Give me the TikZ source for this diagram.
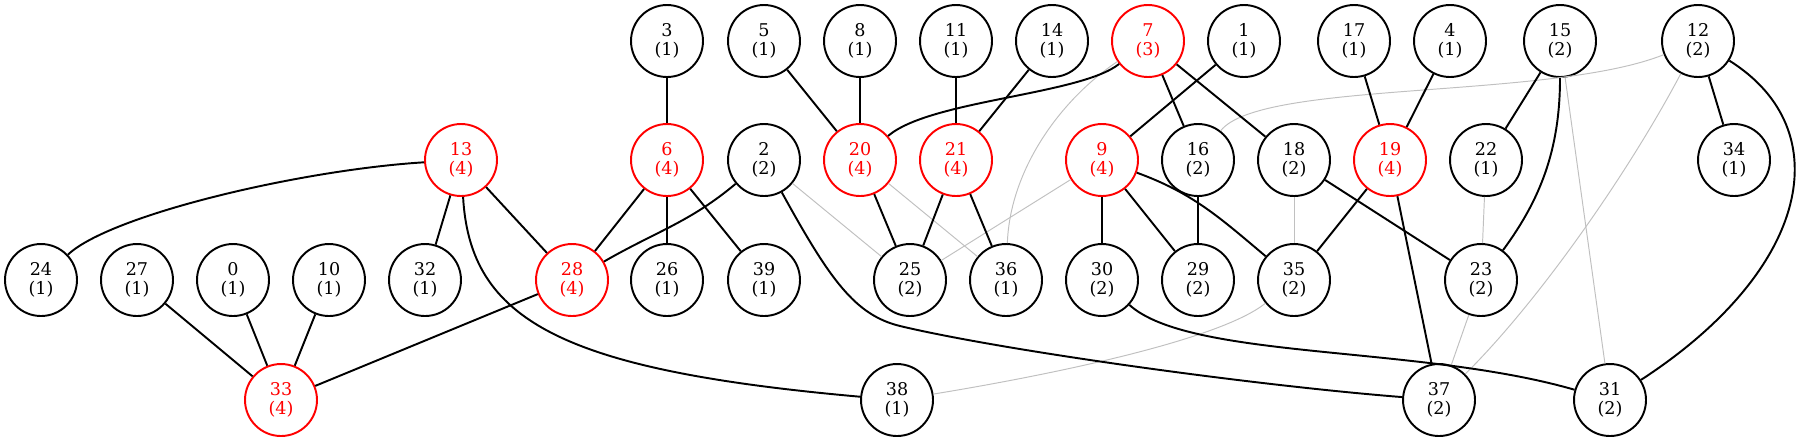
\documentclass[tikz,border=0pt]{standalone}
\usepackage{xcolor}
\usepackage{fontspec}
\setmainfont{DejaVu Serif}
\usepackage{tikz}
\usetikzlibrary{positioning}
\definecolor{hubred}{HTML}{FF0000}
\definecolor{weakgray}{HTML}{C0C0C0}

\begin{document}
\begin{tikzpicture}[
    x=0.02cm, y=-0.02cm,
    vertex/.style={circle, draw, line width=1.1pt, minimum size=1.44cm, inner sep=0pt, align=center, font=\fontsize{10}{10.8}\selectfont},
    hub/.style={vertex, draw=hubred, text=hubred},
    link/.style={line width=1.1pt},
    weak/.style={line width=0.55pt, weakgray}
]
\useasboundingbox (0,0) rectangle (1797,441);

% top row
\node[vertex] (n3) at (667,41) {3\\(1)};
\node[vertex] (n5) at (764,41) {5\\(1)};
\node[vertex] (n8) at (860,41) {8\\(1)};
\node[vertex] (n11) at (956,41) {11\\(1)};
\node[vertex] (n14) at (1052,41) {14\\(1)};
\node[hub] (n7) at (1148,41) {7\\(3)};
\node[vertex] (n1) at (1244,41) {1\\(1)};
\node[vertex] (n17) at (1354,41) {17\\(1)};
\node[vertex] (n4) at (1450,41) {4\\(1)};
\node[vertex] (n15) at (1560,41) {15\\(2)};
\node[vertex] (n12) at (1698,41) {12\\(2)};

% second row
\node[hub] (n13) at (461,160) {13\\(4)};
\node[hub] (n6) at (667,160) {6\\(4)};
\node[vertex] (n2) at (764,160) {2\\(2)};
\node[hub] (n20) at (860,160) {20\\(4)};
\node[hub] (n21) at (956,160) {21\\(4)};
\node[hub] (n9) at (1102,160) {9\\(4)};
\node[vertex] (n16) at (1198,160) {16\\(2)};
\node[vertex] (n18) at (1294,160) {18\\(2)};
\node[hub] (n19) at (1390,160) {19\\(4)};
\node[vertex] (n22) at (1486,160) {22\\(1)};
\node[vertex] (n34) at (1734,160) {34\\(1)};

% third row
\node[vertex] (n24) at (41,280) {24\\(1)};
\node[vertex] (n27) at (137,280) {27\\(1)};
\node[vertex] (n0) at (233,280) {0\\(1)};
\node[vertex] (n10) at (329,280) {10\\(1)};
\node[vertex] (n32) at (425,280) {32\\(1)};
\node[hub] (n28) at (572,280) {28\\(4)};
\node[vertex] (n26) at (667,280) {26\\(1)};
\node[vertex] (n39) at (764,280) {39\\(1)};
\node[vertex] (n25) at (910,280) {25\\(2)};
\node[vertex] (n36) at (1006,280) {36\\(1)};
\node[vertex] (n30) at (1102,280) {30\\(2)};
\node[vertex] (n29) at (1198,280) {29\\(2)};
\node[vertex] (n35) at (1294,280) {35\\(2)};
\node[vertex] (n23) at (1481,280) {23\\(2)};

% bottom row
\node[hub] (n33) at (281,400) {33\\(4)};
\node[vertex] (n38) at (897,400) {38\\(1)};
\node[vertex] (n37) at (1439,400) {37\\(2)};
\node[vertex] (n31) at (1610,400) {31\\(2)};

% light edges
\draw[weak] (n2) -- (n25);
\draw[weak] (n20) -- (n36);
\draw[weak] (n9) -- (n25);
\draw[weak] (n18) -- (n35);
\draw[weak] (n22) -- (n23);
\draw[weak] (n23) -- (n37);
\draw[weak] (n15) -- (n31);
\draw[weak] (n7) .. controls (1060,100) and (1010,170) .. (n36);
\draw[weak] (n12) .. controls (1550,100) and (1260,80) .. (n16);
\draw[weak] (n12) .. controls (1630,170) and (1540,300) .. (n37);
\draw[weak] (n35) .. controls (1220,340) and (1050,375) .. (n38);

% strong edges
\draw[link] (n13) .. controls (300,170) and (110,215) .. (n24);
\draw[link] (n13) -- (n32);
\draw[link] (n13) -- (n28);
\draw[link] (n13) .. controls (470,320) and (560,370) .. (n38);
\draw[link] (n27) -- (n33);
\draw[link] (n0) -- (n33);
\draw[link] (n10) -- (n33);
\draw[link] (n28) -- (n33);
\draw[link] (n3) -- (n6);
\draw[link] (n6) -- (n28);
\draw[link] (n6) -- (n26);
\draw[link] (n6) -- (n39);
\draw[link] (n2) to[out=-140, in=30] (n28);
\draw[link] (n2) .. controls (830,280) and (855,315) .. (900,326)
    .. controls (1000,350) and (1250,385) .. (n37);
\draw[link] (n5) -- (n20);
\draw[link] (n8) -- (n20);
\draw[link] (n7) .. controls (1080,95) and (930,100) .. (n20);
\draw[link] (n20) -- (n25);
\draw[link] (n11) -- (n21);
\draw[link] (n14) -- (n21);
\draw[link] (n21) -- (n25);
\draw[link] (n21) -- (n36);
\draw[link] (n1) -- (n9);
\draw[link] (n7) -- (n16);
\draw[link] (n7) -- (n18);
\draw[link] (n9) -- (n30);
\draw[link] (n9) -- (n29);
\draw[link] (n9) to[out=-20, in=140] (n35);
\draw[link] (n16) -- (n29);
\draw[link] (n18) -- (n23);
\draw[link] (n17) -- (n19);
\draw[link] (n4) -- (n19);
\draw[link] (n19) -- (n35);
\draw[link] (n19) -- (n37);
\draw[link] (n15) -- (n22);
\draw[link] (n15) .. controls (1560,150) and (1540,200) .. (n23);
\draw[link] (n12) -- (n34);
\draw[link] (n12) .. controls (1840,130) and (1810,270) .. (n31);
\draw[link] (n30) .. controls (1190,360) and (1420,345) .. (n31);
\end{tikzpicture}
\end{document}
